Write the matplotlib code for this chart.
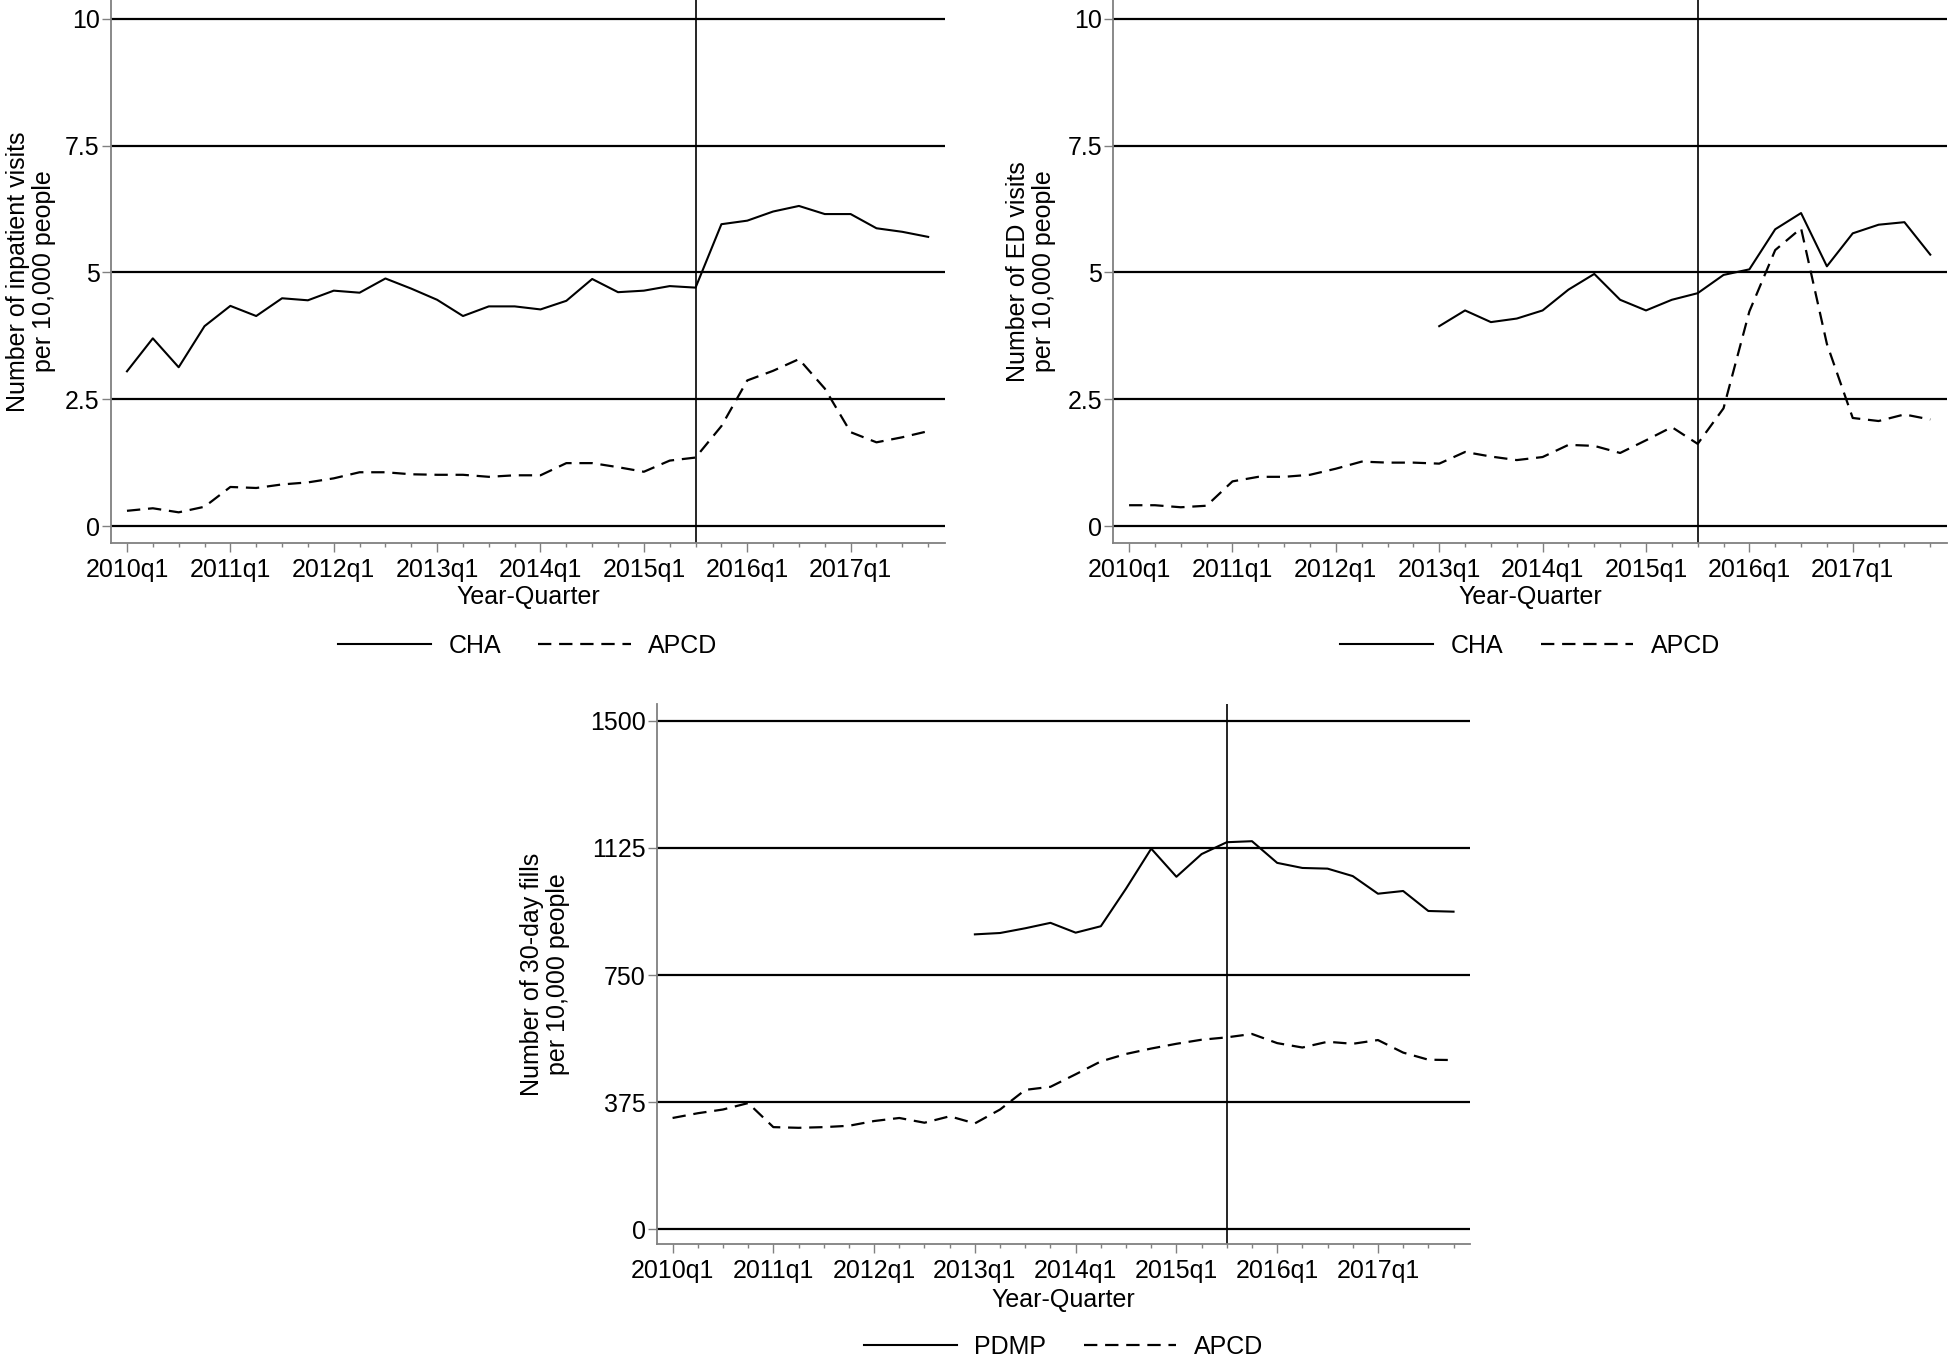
import numpy as np
import matplotlib
matplotlib.use("Agg")
import matplotlib.pyplot as plt

plt.rcParams['font.family'] = ['Liberation Sans', 'DejaVu Sans']

# quarters 2010q1 .. 2017q4 (index 0..31)
n_q = 32
tick_labels = ['2010q1', '2011q1', '2012q1', '2013q1', '2014q1', '2015q1', '2016q1', '2017q1']
policy_q = 22  # 2015q3

# inpatient visits per 10,000
inpat_cha = [3.05, 3.70, 3.13, 3.94, 4.34, 4.14, 4.49, 4.45, 4.64, 4.60,
             4.88, 4.68, 4.46, 4.14, 4.33, 4.33, 4.27, 4.44, 4.87, 4.61,
             4.64, 4.73, 4.70, 5.95, 6.02, 6.20, 6.31, 6.15, 6.15, 5.87,
             5.80, 5.70]
inpat_apcd = [0.30, 0.35, 0.27, 0.38, 0.77, 0.75, 0.82, 0.86, 0.94, 1.06,
              1.06, 1.02, 1.01, 1.01, 0.97, 1.00, 1.00, 1.24, 1.24, 1.16,
              1.07, 1.29, 1.35, 1.97, 2.87, 3.06, 3.29, 2.71, 1.85, 1.65,
              1.75, 1.87]

# ED visits per 10,000 (CHA starts 2013q1)
ed_cha = [None] * 12 + [3.94, 4.25, 4.02, 4.09, 4.25, 4.66, 4.97, 4.46,
                        4.25, 4.46, 4.59, 4.95, 5.06, 5.85, 6.17, 5.12,
                        5.77, 5.94, 5.99, 5.35]
ed_apcd = [0.41, 0.41, 0.37, 0.40, 0.88, 0.97, 0.97, 1.01, 1.13, 1.27,
           1.25, 1.25, 1.23, 1.46, 1.37, 1.30, 1.36, 1.60, 1.58, 1.44,
           1.69, 1.95, 1.62, 2.32, 4.23, 5.44, 5.87, 3.59, 2.13, 2.07,
           2.20, 2.10]

# 30-day fills per 10,000 (PDMP starts 2013q1)
fills_pdmp = [None] * 12 + [870, 874, 888, 904, 875, 894, 1005, 1123,
                            1040, 1107, 1142, 1145, 1081, 1066, 1064, 1042,
                            990, 998, 939, 937]
fills_apcd = [328, 342, 353, 372, 301, 299, 301, 305, 319, 328,
              314, 333, 312, 353, 411, 420, 457, 495, 517, 533,
              547, 559, 566, 576, 549, 536, 553, 547, 558, 521,
              500, 499]

W, H = 1950, 1363
fig = plt.figure(figsize=(W / 100, H / 100), dpi=100)

GRAY = '#808080'
FS = 18


def to_arr(v):
    return np.array([np.nan if x is None else x for x in v], dtype=float)


def panel(rect, s1, s2, names, yticks, ylims, ylabel, ylab_x, xlab_y):
    ax = fig.add_axes(rect)
    x = np.arange(n_q)
    for yt in yticks:
        ax.axhline(yt, color='black', lw=1.6, zorder=1)
    ax.axvline(policy_q, color='black', lw=1.2, zorder=1)
    ax.plot(x, to_arr(s1), color='black', lw=1.5, label=names[0], zorder=3)
    ax.plot(x, to_arr(s2), color='black', lw=1.6, ls=(0, (6, 3.5)),
            label=names[1], zorder=3)
    ax.set_xlim(-0.62, 31.65)
    ax.set_ylim(*ylims)
    for s in ['top', 'right']:
        ax.spines[s].set_visible(False)
    for s in ['left', 'bottom']:
        ax.spines[s].set_color(GRAY)
        ax.spines[s].set_linewidth(1.3)
    ax.set_xticks(np.arange(0, 29, 4))
    ax.set_xticklabels(tick_labels)
    ax.set_xticks(np.arange(n_q), minor=True)
    ax.tick_params(axis='x', which='major', length=6.5, width=1, color=GRAY,
                   labelsize=FS, pad=4)
    ax.tick_params(axis='x', which='minor', length=3, width=1, color=GRAY)
    ax.set_yticks(yticks)
    ax.set_yticklabels([('%g' % v) for v in yticks])
    ax.tick_params(axis='y', length=6.5, width=1, color=GRAY, labelsize=FS, pad=1.5)
    ax.set_ylabel(ylabel, fontsize=FS, linespacing=1.1)
    ax.yaxis.set_label_coords(ylab_x, 0.5)
    ax.set_xlabel('Year-Quarter', fontsize=FS, va='top')
    ax.xaxis.set_label_coords(0.5, xlab_y)
    ax.legend(loc='center', bbox_to_anchor=(0.5, -0.19), ncol=2, frameon=False,
              fontsize=FS, handlelength=3.7, handletextpad=0.7, columnspacing=1.5)
    return ax


panel([0.0569, 0.6016, 0.4277, 0.3984], inpat_cha, inpat_apcd, ['CHA', 'APCD'],
      [0, 2.5, 5, 7.5, 10], (-0.335, 10.37),
      'Number of inpatient visits\nper 10,000 people', -0.066, -0.077)
panel([0.5708, 0.6016, 0.4277, 0.3984], ed_cha, ed_apcd, ['CHA', 'APCD'],
      [0, 2.5, 5, 7.5, 10], (-0.335, 10.37),
      'Number of ED visits\nper 10,000 people', -0.068, -0.077)
panel([0.3369, 0.0873, 0.4169, 0.3962], fills_pdmp, fills_apcd, ['PDMP', 'APCD'],
      [0, 375, 750, 1125, 1500], (-44, 1550),
      'Number of 30-day fills\nper 10,000 people', -0.107, -0.081)

fig.savefig('out.png', dpi=100)
